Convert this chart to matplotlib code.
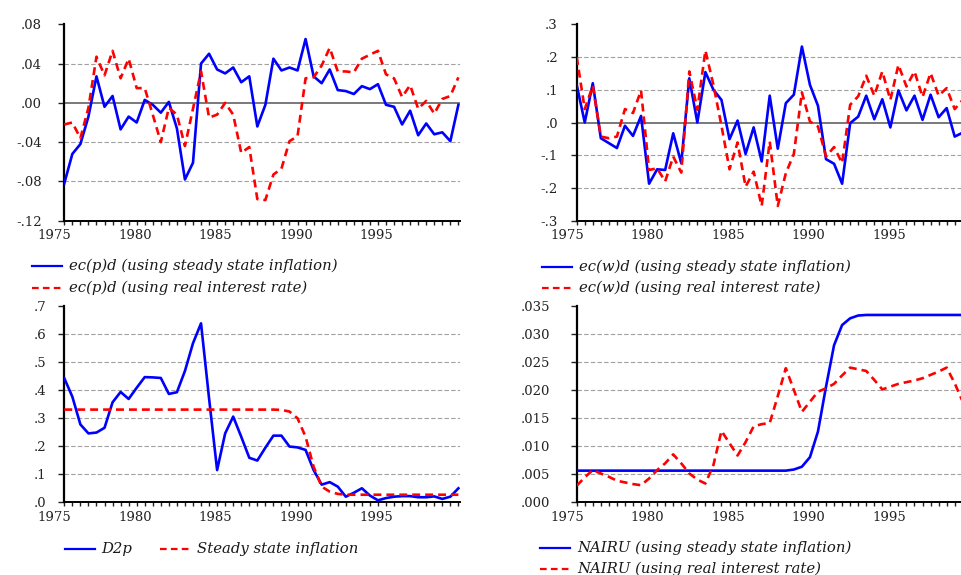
import matplotlib
matplotlib.use("Agg")
import matplotlib.pyplot as plt
import numpy as np
from matplotlib.lines import Line2D
from matplotlib.ticker import FixedLocator, MultipleLocator, FuncFormatter
from matplotlib.transforms import ScaledTranslation

plt.rcParams["font.family"] = ["DejaVu Serif"]

# semiannual observations 1975S1 .. 1999S2
years = np.arange(1975, 2000, 0.5)

# ec(p)d
ecp_ss = [-0.082, -0.052, -0.042, -0.014, 0.027, -0.004, 0.007, -0.027, -0.014, -0.020,
          0.003, -0.002, -0.010, 0.001, -0.026, -0.078, -0.061, 0.040, 0.050, 0.034,
          0.030, 0.036, 0.021, 0.027, -0.024, -0.002, 0.045, 0.033, 0.036, 0.033,
          0.065, 0.027, 0.020, 0.034, 0.013, 0.012, 0.009, 0.017, 0.014, 0.019,
          -0.002, -0.004, -0.022, -0.008, -0.033, -0.021, -0.032, -0.030, -0.039, -0.002]
ecp_ri = [-0.022, -0.020, -0.036, -0.005, 0.047, 0.028, 0.053, 0.025, 0.045, 0.015,
          0.015, -0.012, -0.040, -0.005, -0.012, -0.044, -0.006, 0.032, -0.015, -0.012,
          0.000, -0.012, -0.051, -0.045, -0.098, -0.099, -0.073, -0.067, -0.039, -0.034,
          0.025, 0.026, 0.038, 0.056, 0.032, 0.032, 0.031, 0.045, 0.049, 0.053,
          0.029, 0.025, 0.006, 0.018, -0.006, 0.002, -0.011, 0.004, 0.007, 0.026]

# ec(w)d
ecw_ss = [0.115, 0.000, 0.120, -0.048, -0.063, -0.078, -0.010, -0.041, 0.020, -0.187,
          -0.143, -0.145, -0.033, -0.124, 0.135, 0.000, 0.154, 0.100, 0.069, -0.051,
          0.006, -0.096, -0.015, -0.119, 0.082, -0.080, 0.059, 0.085, 0.232, 0.115,
          0.051, -0.112, -0.126, -0.187, -0.002, 0.018, 0.082, 0.010, 0.071, -0.015,
          0.098, 0.037, 0.082, 0.008, 0.085, 0.016, 0.044, -0.043, -0.031, -0.020]
ecw_ri = [0.200, 0.041, 0.112, -0.043, -0.048, -0.043, 0.041, 0.029, 0.098, -0.145,
          -0.140, -0.180, -0.104, -0.153, 0.156, 0.039, 0.220, 0.115, -0.010, -0.143,
          -0.061, -0.196, -0.150, -0.255, -0.058, -0.255, -0.155, -0.096, 0.092, 0.003,
          -0.012, -0.104, -0.075, -0.124, 0.054, 0.080, 0.143, 0.082, 0.156, 0.069,
          0.176, 0.110, 0.156, 0.078, 0.151, 0.082, 0.105, 0.041, 0.069, 0.090]

# inflation
d2p = [0.442, 0.376, 0.277, 0.245, 0.248, 0.265, 0.356, 0.393, 0.368, 0.408,
       0.446, 0.445, 0.443, 0.386, 0.392, 0.468, 0.567, 0.638, 0.370, 0.114,
       0.245, 0.305, 0.233, 0.158, 0.148, 0.194, 0.237, 0.237, 0.198, 0.195,
       0.186, 0.114, 0.062, 0.071, 0.055, 0.019, 0.033, 0.049, 0.023, 0.006,
       0.014, 0.019, 0.021, 0.021, 0.017, 0.017, 0.020, 0.011, 0.019, 0.049]
ss_infl = [0.330, 0.330, 0.330, 0.330, 0.330, 0.330, 0.330, 0.330, 0.330, 0.330,
           0.330, 0.330, 0.330, 0.330, 0.330, 0.330, 0.330, 0.330, 0.330, 0.330,
           0.330, 0.330, 0.330, 0.330, 0.330, 0.330, 0.330, 0.329, 0.323, 0.299,
           0.233, 0.126, 0.055, 0.037, 0.029, 0.026, 0.026, 0.026, 0.026, 0.026,
           0.026, 0.026, 0.026, 0.026, 0.026, 0.026, 0.026, 0.026, 0.026, 0.026]

# NAIRU
nairu_ss = [0.0056, 0.0056, 0.0056, 0.0056, 0.0056, 0.0056, 0.0056, 0.0056, 0.0056, 0.0056,
            0.0056, 0.0056, 0.0056, 0.0056, 0.0056, 0.0056, 0.0056, 0.0056, 0.0056, 0.0056,
            0.0056, 0.0056, 0.0056, 0.0056, 0.0056, 0.0056, 0.0056, 0.0058, 0.0063, 0.0080,
            0.0126, 0.0206, 0.0280, 0.0316, 0.0328, 0.0333, 0.0334, 0.0334, 0.0334, 0.0334,
            0.0334, 0.0334, 0.0334, 0.0334, 0.0334, 0.0334, 0.0334, 0.0334, 0.0334, 0.0334]
nairu_ri = [0.0029, 0.0044, 0.0057, 0.0051, 0.0045, 0.0038, 0.0035, 0.0032, 0.0030, 0.0042,
            0.0057, 0.0069, 0.0085, 0.0069, 0.0051, 0.0040, 0.0033, 0.0066, 0.0127, 0.0105,
            0.0083, 0.0107, 0.0135, 0.0139, 0.0141, 0.0189, 0.0239, 0.0200, 0.0161, 0.0179,
            0.0197, 0.0203, 0.0211, 0.0226, 0.0240, 0.0237, 0.0234, 0.0218, 0.0201, 0.0206,
            0.0211, 0.0214, 0.0217, 0.0221, 0.0227, 0.0233, 0.0240, 0.0212, 0.0179, 0.0160]

year_ticks = [1975, 1980, 1985, 1990, 1995]

BLUE = "#0000ff"
RED = "#ff0000"
DASH = (0, (3.0, 1.9))
LW = 1.9

W, H = 962, 575
fig = plt.figure(figsize=(W / 100, H / 100), dpi=100)


def box(left, top, right, bottom):
    # pixel box -> figure fraction rect
    return [left / W, 1 - bottom / H, (right - left) / W, (bottom - top) / H]


def setup(ax, lo, hi, step, nd, zero_line, ypad):
    ax.set_xlim(1975, 1999.6)
    ax.set_ylim(lo, hi)
    yt = np.round(np.arange(lo, hi + step / 2, step), 6)
    ax.yaxis.set_major_locator(FixedLocator(yt))
    ax.yaxis.set_major_formatter(FuncFormatter(
        lambda v, p: f"{v:.{nd}f}".replace("0.", ".", 1)))
    ax.xaxis.set_major_locator(FixedLocator(year_ticks))
    ax.xaxis.set_minor_locator(MultipleLocator(0.5))
    for t in yt[1:-1]:
        if abs(t) < 1e-9 and zero_line:
            ax.axhline(0, color="#555555", lw=1.1, zorder=1)
        else:
            ax.axhline(t, color="#a0a0a0", lw=0.8, ls=(0, (4, 2)), zorder=1)
    for s in ["top", "right"]:
        ax.spines[s].set_visible(False)
    ax.spines["left"].set_linewidth(1.6)
    ax.spines["bottom"].set_linewidth(1.4)
    ax.tick_params(axis="y", length=4.5, width=1, pad=ypad, labelsize=9.5, colors="#222222")
    ax.tick_params(axis="x", which="both", length=3, width=1, pad=3.2, labelsize=9.5, colors="#222222")
    shift = ScaledTranslation(-0.095, 0, fig.dpi_scale_trans)
    for tk in ax.xaxis.get_major_ticks():
        tk.label1.set_transform(tk.label1.get_transform() + shift)


def legend_entry(x, y, color, ls, label):
    x0, x1 = x / W, (x + 30) / W
    yy = 1 - y / H
    fig.add_artist(Line2D([x0, x1], [yy, yy], transform=fig.transFigure,
                          color=color, lw=1.6, ls=ls))
    fig.text((x + 37) / W, yy, label, ha="left", va="center", fontsize=10.7,
             style="italic", color="#1a1a1a")


ax1 = fig.add_axes(box(64.3, 24.3, 460, 220.7))
ax1.plot(years, ecp_ss, color=BLUE, lw=LW, zorder=3)
ax1.plot(years, ecp_ri, color=RED, lw=LW, ls=DASH, zorder=3)
setup(ax1, -0.12, 0.08, 0.04, 2, True, 11.5)

ax2 = fig.add_axes(box(576.7, 24.3, 972.4, 220.7))
ax2.plot(years, ecw_ss, color=BLUE, lw=LW, zorder=3)
ax2.plot(years, ecw_ri, color=RED, lw=LW, ls=DASH, zorder=3)
setup(ax2, -0.3, 0.3, 0.1, 1, True, 9)

ax3 = fig.add_axes(box(64.3, 306, 460, 502))
ax3.plot(years, d2p, color=BLUE, lw=LW, zorder=3)
ax3.plot(years, ss_infl, color=RED, lw=LW, ls=DASH, zorder=3)
setup(ax3, 0.0, 0.7, 0.1, 1, False, 8.4)

ax4 = fig.add_axes(box(576.7, 306, 972.4, 502))
ax4.plot(years, nairu_ss, color=BLUE, lw=LW, zorder=3)
ax4.plot(years, nairu_ri, color=RED, lw=LW, ls=DASH, zorder=3)
setup(ax4, 0.0, 0.035, 0.005, 3, False, 14.5)

legend_entry(32, 266, BLUE, "-", "ec(p)d (using steady state inflation)")
legend_entry(32, 287.7, RED, DASH, "ec(p)d (using real interest rate)")
legend_entry(541.7, 266.7, BLUE, "-", "ec(w)d (using steady state inflation)")
legend_entry(541.7, 287.7, RED, DASH, "ec(w)d (using real interest rate)")
legend_entry(64.7, 549, BLUE, "-", "D2p")
legend_entry(160, 549, RED, DASH, "Steady state inflation")
legend_entry(540, 548.3, BLUE, "-", "NAIRU (using steady state inflation)")
legend_entry(540, 569.3, RED, DASH, "NAIRU (using real interest rate)")

fig.savefig("out.png", dpi=100)
